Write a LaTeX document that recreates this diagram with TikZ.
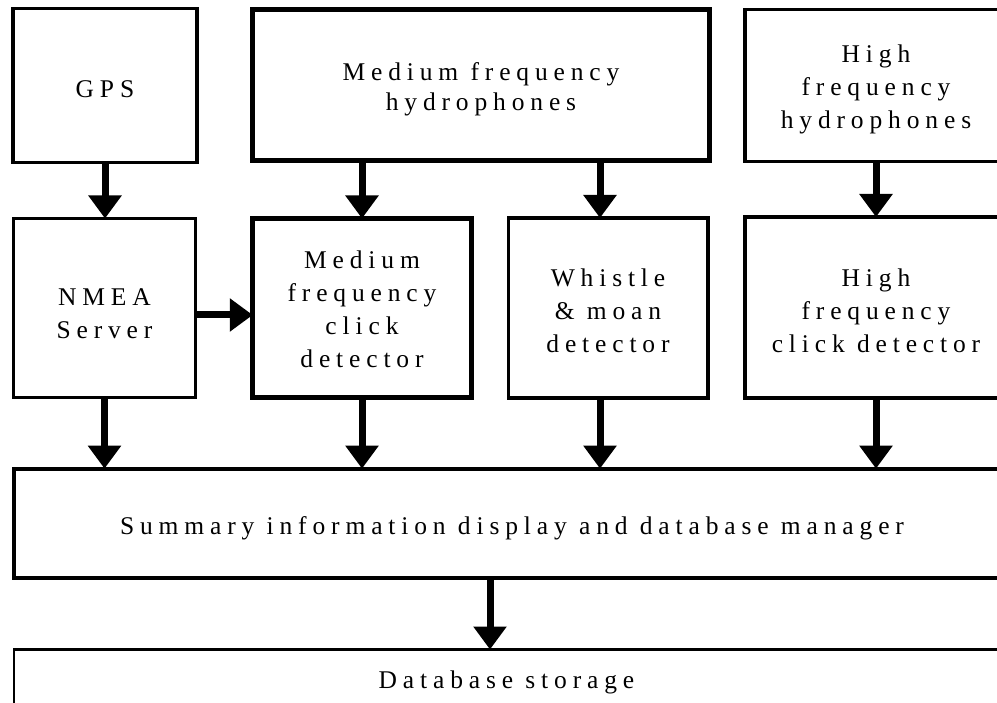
\documentclass[tikz,border=0pt]{standalone}
\usepackage{fontspec}
\newfontfamily\boxfont[LetterSpace=23]{Liberation Serif}
\usetikzlibrary{arrows.meta}
\begin{document}
\begin{tikzpicture}[x=1pt,y=-1pt,
  box/.style={draw=black, rectangle, inner sep=0pt, outer sep=0pt},
  txt/.style={font=\fontsize{25.5}{33}\selectfont\boxfont, align=center, inner sep=0pt, text=black},
  arr/.style={draw=black, line width=7pt, -{Triangle[width=32pt,length=23pt]}},
]
\useasboundingbox (0,0) rectangle (997,703);
\fill[white] (0,0) rectangle (997,703);
\begin{scope}
\clip (0,0) rectangle (997,703);
\coordinate (x600) at (600,0);
\coordinate (x490) at (490,0);
\coordinate (y315) at (0,315);

\node[box, line width=3.5pt, minimum width=184pt, minimum height=154pt,
  label={[txt,yshift=-3.2pt]center:GPS}] (gps) at (105,85.5) {};
\node[box, line width=4.5pt, minimum width=457pt, minimum height=151pt,
  label={[txt,yshift=-4.2pt]center:{Medium frequency\\[-3pt]hydrophones}}] (mfh) at (481,85) {};
\node[box, line width=3.5pt, minimum width=262pt, minimum height=152pt,
  label={[txt,yshift=-4.2pt]center:{High\\frequency\\hydrophones}}] (hfh) at (876,85.5) {};

\node[box, line width=3pt, minimum width=182pt, minimum height=179pt,
  label={[txt,yshift=-5.5pt]center:{NMEA\\Server}}] (nmea) at (104.5,308) {};
\node[box, line width=5pt, minimum width=218.5pt, minimum height=179pt,
  label={[txt,yshift=-1.6pt]center:{Medium\\frequency\\click\\detector}}] (mfc) at (362,308) {};
\node[box, line width=3.5pt, minimum width=199.5pt, minimum height=180pt,
  label={[txt,yshift=-3.2pt]center:{Whistle\\\& moan\\detector}}] (wmd) at (608,308) {};
\node[box, line width=3.5pt, minimum width=262pt, minimum height=181pt,
  label={[txt,yshift=-3.2pt]center:{High\\frequency\\click detector}}] (hfc) at (876,307.5) {};

\node[box, line width=4pt, minimum width=996pt, minimum height=109.3pt,
  label={[txt,yshift=-4.9pt]center:{Summary information display and database manager}}] (sum) at (512,523.3) {};
\node[box, line width=2.5pt, minimum width=996pt, minimum height=110.5pt,
  label={[txt,yshift=22.5pt,xshift=-5.5pt]center:{Database storage}}] (db) at (512,704.75) {};

\draw[arr] (gps.south) -- (nmea.north -| gps.south);
\draw[arr] (mfh.south -| mfc.north) -- (mfc.north);
\draw[arr] (mfh.south -| x600) -- (wmd.north -| x600);
\draw[arr] (hfh.south) -- (hfc.north);
\draw[arr] (nmea.east |- y315) -- (mfc.west |- y315);
\draw[arr] (nmea.south) -- (sum.north -| nmea.south);
\draw[arr] (mfc.south) -- (sum.north -| mfc.south);
\draw[arr] (wmd.south -| x600) -- (sum.north -| x600);
\draw[arr] (hfc.south) -- (sum.north -| hfc.south);
\draw[arr] (sum.south -| x490) -- (db.north -| x490);
\end{scope}
\end{tikzpicture}
\end{document}
